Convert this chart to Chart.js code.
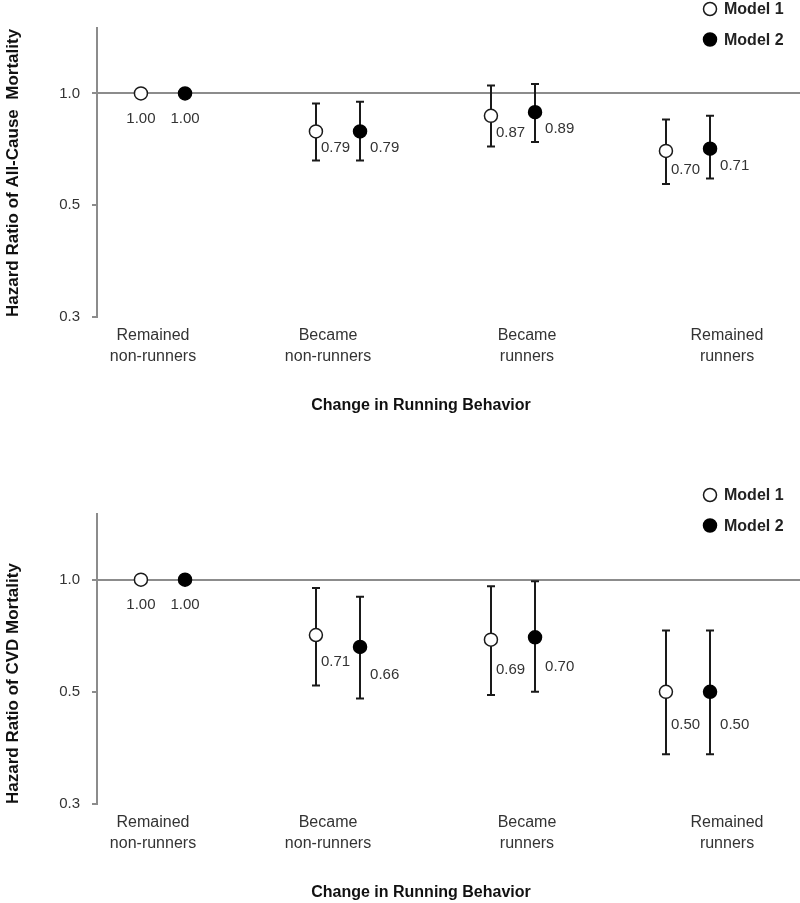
<!DOCTYPE html>
<html>
<head>
<meta charset="utf-8">
<script src="https://cdn.jsdelivr.net/npm/chart.js@4.4.0/dist/chart.umd.min.js"></script>
<style>
  html, body { margin: 0; padding: 0; background: #fff; overflow: hidden; }
  canvas { display: block; }
</style>
</head>
<body>
<canvas id="allCause" width="800" height="486"></canvas>
<canvas id="cvd" width="800" height="417"></canvas>
<script>
// ---- data ----
const categories = [['Remained', 'non-runners'], ['Became', 'non-runners'], ['Became', 'runners'], ['Remained', 'runners']];
const modelNames = ['Model 1', 'Model 2'];

const allCauseM1   = [1.00, 0.79, 0.87, 0.70];
const allCauseM1Lo = [null, 0.66, 0.72, 0.57];
const allCauseM1Hi = [null, 0.94, 1.05, 0.85];
const allCauseM2   = [1.00, 0.79, 0.89, 0.71];
const allCauseM2Lo = [null, 0.66, 0.74, 0.59];
const allCauseM2Hi = [null, 0.95, 1.06, 0.87];

const cvdM1   = [1.00, 0.71, 0.69, 0.50];
const cvdM1Lo = [null, 0.52, 0.49, 0.34];
const cvdM1Hi = [null, 0.95, 0.96, 0.73];
const cvdM2   = [1.00, 0.66, 0.70, 0.50];
const cvdM2Lo = [null, 0.48, 0.50, 0.34];
const cvdM2Hi = [null, 0.90, 0.99, 0.73];

const yTicks = [0.25, 0.5, 1.0];
const yTickLabels = ['0.3', '0.5', '1.0'];
const xTitle = 'Change in Running Behavior';

// ---- layout / style ----
const FONT = "'Liberation Sans', Arial, sans-serif";
const INK = '#1a1a1a';
const AXIS_GRAY = '#8c8c8c';
const labelPos = [-0.057, 0.943, 2.08, 3.223];   // where category text sits (x units)
const modelShift = 0.126;

function points(vals, lo, hi, shift) {
  return vals.map((v, i) => ({ x: i + shift, y: v, lo: lo[i], hi: hi[i] }));
}

const errorBars = {
  id: 'errorBars',
  beforeDatasetsDraw(chart) {
    const { ctx, scales: { x, y } } = chart;
    ctx.save();
    ctx.strokeStyle = INK;
    ctx.lineWidth = 2;
    chart.data.datasets.forEach(ds => {
      ds.data.forEach(d => {
        if (d.lo == null) return;
        const px = Math.round(x.getPixelForValue(d.x));
        const yl = y.getPixelForValue(d.lo), yh = y.getPixelForValue(d.hi);
        ctx.beginPath();
        ctx.moveTo(px, yh); ctx.lineTo(px, yl);
        ctx.moveTo(px - 4, yh); ctx.lineTo(px + 4, yh);
        ctx.moveTo(px - 4, yl); ctx.lineTo(px + 4, yl);
        ctx.stroke();
      });
    });
    ctx.restore();
  },
  afterDatasetsDraw(chart) {
    const { ctx, scales: { x, y } } = chart;
    ctx.save();
    ctx.fillStyle = '#333';
    ctx.font = '15px ' + FONT;
    ctx.textBaseline = 'middle';
    chart.data.datasets.forEach((ds, di) => {
      ds.data.forEach(d => {
        const px = x.getPixelForValue(d.x), py = y.getPixelForValue(d.y);
        const txt = d.y.toFixed(2);
        if (d.lo == null) {
          ctx.textAlign = 'center';
          ctx.fillText(txt, px, py + 25);
        } else {
          ctx.textAlign = 'left';
          ctx.fillText(txt, px + (di === 0 ? 5 : 10), (py + y.getPixelForValue(d.lo)) / 2 + 2);
        }
      });
    });
    ctx.restore();
  },
  afterDraw(chart) {
    const { ctx, chartArea } = chart;
    ctx.save();
    // legend
    chart.data.datasets.forEach((ds, i) => {
      const cy = 9 + i * 30.5;
      ctx.beginPath();
      ctx.arc(710, cy, 6.5, 0, Math.PI * 2);
      ctx.fillStyle = ds.backgroundColor;
      ctx.fill();
      ctx.lineWidth = 1.5;
      ctx.strokeStyle = ds.borderColor;
      ctx.stroke();
      ctx.fillStyle = '#222';
      ctx.font = 'bold 16px ' + FONT;
      ctx.textAlign = 'left';
      ctx.textBaseline = 'middle';
      ctx.fillText(ds.label, 724, cy + 1);
    });
    // x axis title
    ctx.fillStyle = '#111';
    ctx.font = 'bold 16px ' + FONT;
    ctx.textAlign = 'center';
    ctx.textBaseline = 'middle';
    ctx.fillText(xTitle, 421, chartArea.bottom + 89);
    ctx.restore();
  }
};

function makeChart(id, yTitle, m1, m1Lo, m1Hi, m2, m2Lo, m2Hi, bottomPad) {
  return new Chart(document.getElementById(id), {
    type: 'scatter',
    data: {
      datasets: [
        {
          label: modelNames[0],
          data: points(m1, m1Lo, m1Hi, -modelShift),
          backgroundColor: '#ffffff',
          borderColor: INK,
          pointRadius: 6.5,
          pointBorderWidth: 1.5
        },
        {
          label: modelNames[1],
          data: points(m2, m2Lo, m2Hi, modelShift),
          backgroundColor: '#000000',
          borderColor: '#000000',
          pointRadius: 6.5,
          pointBorderWidth: 1.5
        }
      ]
    },
    options: {
      responsive: false,
      animation: false,
      layout: { autoPadding: false, padding: { top: 28, left: 0, right: 0, bottom: bottomPad } },
      plugins: { legend: { display: false }, tooltip: { enabled: false } },
      scales: {
        x: {
          type: 'linear', min: -0.377, max: 3.64,
          grid: { display: false },
          border: { display: false },
          afterBuildTicks: s => { s.ticks = labelPos.map(v => ({ value: v })); },
          afterFit: s => { s.height = 90; s.paddingLeft = 0; s.paddingRight = 0; },
          ticks: {
            autoSkip: false, maxRotation: 0, padding: 0, color: '#333',
            font: { family: FONT, size: 16, lineHeight: 1.3 },
            callback: (v, i) => categories[i]
          }
        },
        y: {
          type: 'logarithmic', min: 0.25, max: 1.5,
          afterBuildTicks: s => { s.ticks = yTicks.map(v => ({ value: v })); },
          afterFit: s => { s.width = 97; },
          border: { display: true, color: AXIS_GRAY, width: 2 },
          grid: {
            color: c => (c.tick && c.tick.value === 1 ? AXIS_GRAY : 'rgba(0,0,0,0)'),
            tickColor: AXIS_GRAY, tickLength: 5, lineWidth: 2
          },
          ticks: {
            padding: 12, color: '#333',
            font: { family: FONT, size: 15 },
            callback: (v, i) => yTickLabels[i]
          },
          title: {
            display: true, text: yTitle, color: '#111', align: 'start',
            font: { family: FONT, size: 17, weight: 'bold' },
            padding: { top: 3, bottom: 0 }
          }
        }
      }
    },
    plugins: [errorBars]
  });
}

makeChart('allCause', 'Hazard Ratio of All-Cause  Mortality',
  allCauseM1, allCauseM1Lo, allCauseM1Hi, allCauseM2, allCauseM2Lo, allCauseM2Hi, 79);
makeChart('cvd', 'Hazard Ratio of CVD Mortality',
  cvdM1, cvdM1Lo, cvdM1Hi, cvdM2, cvdM2Lo, cvdM2Hi, 9);
</script>
</body>
</html>
